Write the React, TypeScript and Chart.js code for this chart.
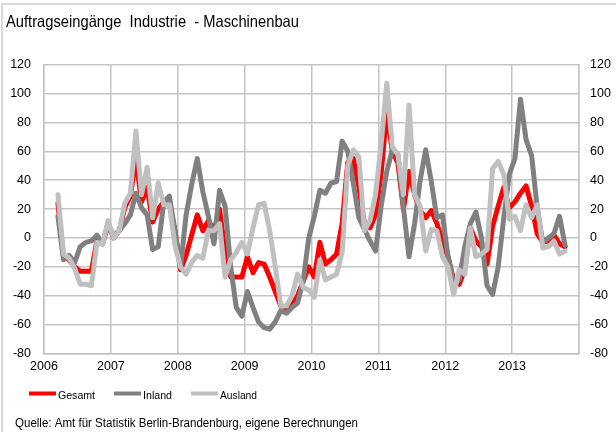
import React, { useEffect, useRef } from 'react';
import { Chart, registerables } from 'chart.js';

Chart.register(...registerables);

// ---- data (monthly, March 2006 .. October 2013) ----
const TITLE = 'Auftragseingänge  Industrie  - Maschinenbau';
const SOURCE = 'Quelle: Amt für Statistik Berlin-Brandenburg, eigene Berechnungen';
const SERIES_NAMES = ['Gesamt', 'Inland', 'Ausland'];
const SERIES_COLORS = ['#ff0000', '#808080', '#c0c0c0'];
const FIRST_YEAR = 2006;
const LAST_YEAR_LABEL = 2013;
const FIRST_MONTH = 2; // months after January 2006 -> March 2006
const Y_MIN = -80;
const Y_MAX = 120;
const Y_STEP = 20;

const gesamt = [
  24, -13, -15, -20, -23, -23, -23, -2, -4, 10,
  0, 5, 21, 29, 55, 25, 35, 11, 20, 25,
  24, 5, -22, -12, 2, 16, 5, 12, 5, 20,
  -10, -27, -27, -27, -13, -24, -17, -18, -27, -37,
  -47, -50, -45, -40, -30, -20, -27, -3, -18, -15,
  -11, 10, 52, 55, 35, 10, 7, 16, 45, 87,
  60, 52, 20, 46, 30, 19, 14, 19, 10, -2,
  -13, -29, -32, -22, 7, -2, -6, -18, 8, 22,
  35, 21, 25, 31, 36, 22, 3, -3, -2, 2,
  -4, -6,
];

const inland = [
  15, -15, -12, -17, -6, -3, -2, 2, -4, 8,
  2, 5, 10, 16, 31, 21, 16, -8, -6, 25,
  29, 5, -20, 16, 37, 55, 32, 15, -4, 33,
  22, -20, -48, -54, -37, -48, -58, -62, -63, -58,
  -50, -52, -48, -45, -30, 0, 15, 33, 31, 38,
  39, 67, 60, 38, 14, 6, -2, -9, 22, 46,
  61, 58, 21, -13, 10, 40, 61, 39, 14, 16,
  -13, -31, -29, -6, 10, 18, 0, -33, -39, -20,
  14, 44, 55, 96, 68, 57, 21, -3, 0, 3,
  15, -5,
];

const ausland = [
  30, -11, -14, -21, -32, -32, -33, -3, -4, 12,
  0, 5, 24, 31, 74, 30, 49, 14, 38, 23,
  23, -5, -20, -25, -17, -12, -14, 5, 5, 10,
  -27, -15, -10, -3, -11, 7, 23, 24, 5, -20,
  -47, -47, -40, -25, -34, -36, -41, -15, -29, -27,
  -25, -10, 50, 61, 56, 5, 12, 30, 65, 107,
  63, 58, 30, 92, 30, 22, -9, 6, 5, -13,
  -20, -39, -22, -25, 7, -13, -11, -8, 48, 53,
  44, 13, 15, 5, 23, 14, 23, -7, -6, -2,
  -11, -9,
];

const SERIES_VALUES = [gesamt, inland, ausland];

const FONT = '"Liberation Sans", Arial, sans-serif';

function fitText(
  ctx: CanvasRenderingContext2D,
  text: string,
  x: number,
  y: number,
  font: string,
  width: number
) {
  ctx.font = font;
  const w = ctx.measureText(text).width;
  ctx.save();
  ctx.translate(x, y);
  ctx.scale(width / w, 1);
  ctx.fillText(text, 0, 0);
  ctx.restore();
}

const overlayPlugin = {
  id: 'overlayTexts',
  afterDraw(chart: any) {
    const ctx: CanvasRenderingContext2D = chart.ctx;
    ctx.save();
    ctx.fillStyle = '#000';
    ctx.textBaseline = 'alphabetic';
    ctx.textAlign = 'left';
    // title
    fitText(ctx, TITLE, 6, 27, `16.5px ${FONT}`, 293);
    // legend
    const swatchX = [29, 114, 191];
    const textW = [37, 29, 37];
    SERIES_NAMES.forEach((name, i) => {
      ctx.strokeStyle = SERIES_COLORS[i];
      ctx.lineWidth = 4;
      ctx.lineCap = 'butt';
      ctx.beginPath();
      ctx.moveTo(swatchX[i], 393.5);
      ctx.lineTo(swatchX[i] + 27, 393.5);
      ctx.stroke();
      ctx.fillStyle = '#000';
      fitText(ctx, name, swatchX[i] + 29, 398.5, `11.5px ${FONT}`, textW[i]);
    });
    // source
    fitText(ctx, SOURCE, 15, 426.5, `12.5px ${FONT}`, 343);
    ctx.restore();
  },
};

export default function App() {
  const ref = useRef<HTMLCanvasElement>(null);

  useEffect(() => {
    const toPoints = (vals: number[]) =>
      vals.map((v, k) => ({ x: FIRST_MONTH + k + 0.5, y: v }));
    const gridColor = '#c4c4c4';
    const tickFont = { family: FONT, size: 12.5 };
    const datasets = SERIES_NAMES.map((name, i) => ({
      label: name,
      data: toPoints(SERIES_VALUES[i]),
      borderColor: SERIES_COLORS[i],
      backgroundColor: SERIES_COLORS[i],
      borderWidth: 5,
      pointRadius: 0,
      tension: 0,
      fill: false,
      borderJoinStyle: 'round' as const,
      borderCapStyle: 'round' as const,
      order: 3 - i,
    }));

    const chart = new Chart(ref.current as HTMLCanvasElement, {
      type: 'line',
      data: { datasets },
      options: {
        responsive: false,
        animation: false,
        devicePixelRatio: 1,
        layout: { padding: { top: 64.5, left: 0, right: 0, bottom: 0 } },
        plugins: {
          legend: { display: false },
          title: { display: false },
          tooltip: { enabled: false },
        },
        scales: {
          x: {
            type: 'linear',
            min: 0,
            max: (LAST_YEAR_LABEL + 1 - FIRST_YEAR) * 12,
            ticks: {
              stepSize: 12,
              autoSkip: false,
              maxRotation: 0,
              padding: 5,
              color: '#000',
              font: tickFont,
              callback: (v: any) => {
                const year = FIRST_YEAR + Number(v) / 12;
                return year <= LAST_YEAR_LABEL ? String(year) : '';
              },
            },
            grid: { color: gridColor, lineWidth: 1.5, drawTicks: false },
            border: { color: gridColor, width: 1.5 },
            afterFit: (s: any) => {
              s.height = 78.3;
            },
          },
          y: {
            position: 'left',
            min: Y_MIN,
            max: Y_MAX,
            ticks: { stepSize: Y_STEP, padding: 13, color: '#000', font: tickFont },
            grid: { color: gridColor, lineWidth: 1.5, drawTicks: false },
            border: { color: gridColor, width: 1.5 },
            afterFit: (s: any) => {
              s.width = 44;
            },
          },
          y2: {
            position: 'right',
            min: Y_MIN,
            max: Y_MAX,
            ticks: { stepSize: Y_STEP, padding: 11, color: '#000', font: tickFont },
            grid: { drawOnChartArea: false, drawTicks: false },
            border: { color: gridColor, width: 1.5 },
            afterFit: (s: any) => {
              s.width = 37;
            },
          },
        },
      } as any,
      plugins: [overlayPlugin],
    });
    return () => chart.destroy();
  }, []);

  return (
    <div
      style={{
        position: 'fixed',
        left: 0,
        top: 0,
        width: 616,
        height: 432,
        overflow: 'hidden',
        background: '#fff',
      }}
    >
      <div
        style={{
          position: 'absolute',
          left: 1,
          top: 3,
          width: 700,
          height: 500,
          border: '2px solid #d9d9d9',
        }}
      />
      <canvas
        ref={ref}
        width={616}
        height={432}
        style={{ position: 'absolute', left: 0, top: 0 }}
      />
    </div>
  );
}
